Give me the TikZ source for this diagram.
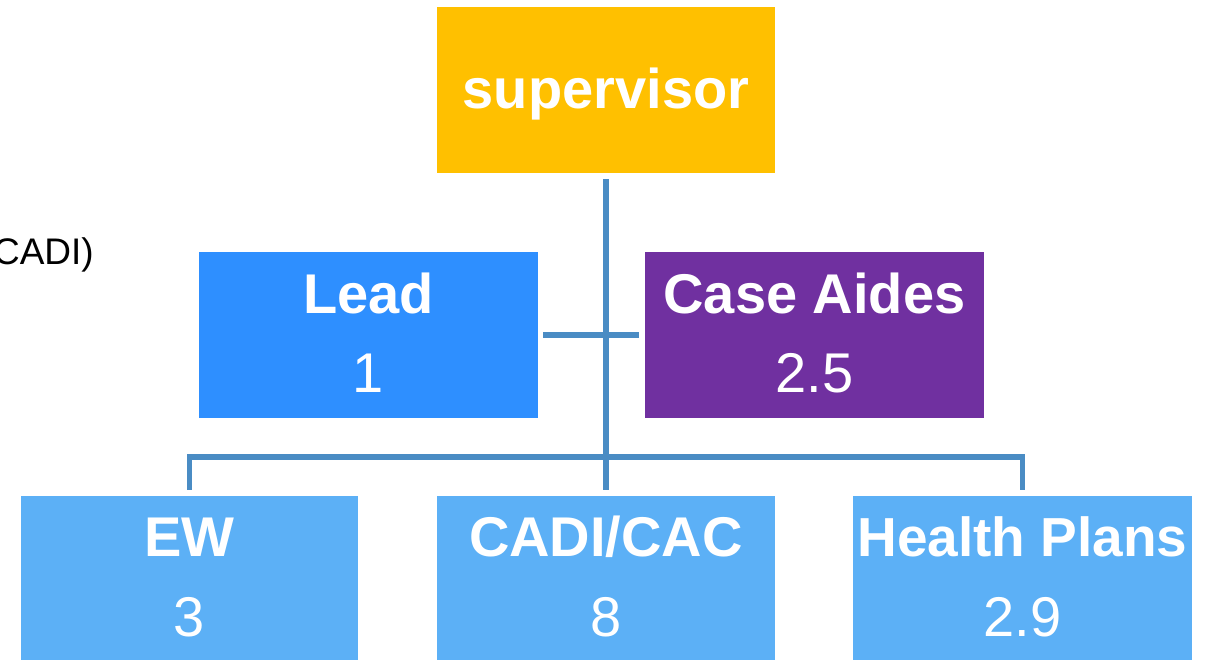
\documentclass[tikz,border=0pt]{standalone}
\usepackage{fontspec}
\setmainfont{Liberation Sans}
\definecolor{supfill}{HTML}{FFC000}
\definecolor{leadfill}{HTML}{2E8FFF}
\definecolor{casefill}{HTML}{7030A0}
\definecolor{teamfill}{HTML}{5CB0F6}
\definecolor{linkcol}{HTML}{4A8CC4}
\tikzset{
  box/.style={rectangle, inner sep=0pt, draw=none, minimum width=338pt, minimum height=166pt},
  title/.style={text=white, inner sep=0pt, anchor=base, font=\fontsize{56}{60}\selectfont\bfseries},
  count/.style={text=white, inner sep=0pt, anchor=base, font=\fontsize{56}{60}\selectfont},
  conn/.style={draw=linkcol, line width=5.5pt, line cap=butt, line join=miter}
}
\begin{document}
\begin{tikzpicture}[x=1pt,y=-1pt]
\clip (0,0) rectangle (1210,659);
\fill[white] (0,0) rectangle (1210,659);

% partial caption at the left margin
\node[anchor=base east, inner sep=0pt, font=\fontsize{37}{40}\selectfont] (side) at (94,264) {CADI)};

% boxes
\node[box, fill=supfill] (sup) at (606,90) {};
\node[box, fill=leadfill, minimum width=339pt] (lead) at (368.5,335) {};
\node[box, fill=casefill, minimum width=339pt] (case) at (814.5,335) {};
\node[box, fill=teamfill, minimum width=337pt, minimum height=169pt] (ew) at (189.5,580.5) {};
\node[box, fill=teamfill, minimum width=338pt, minimum height=169pt] (cadi) at (606,580.5) {};
\node[box, fill=teamfill, minimum width=339pt, minimum height=169pt] (hp) at (1022.5,580.5) {};

% labels
\node[title] (supT) at (606,108) {supervisor};
\node[title] (leadT) at (368.5,313) {Lead};
\node[count] (leadN) at (368.5,392) {1};
\node[title] (caseT) at (814.5,313) {Case Aides};
\node[count] (caseN) at (814.5,392) {2.5};
\node[title] (ewT) at (189.5,556) {EW};
\node[count] (ewN) at (189.5,636) {3};
\node[title] (cadiT) at (606,556) {CADI/CAC};
\node[count] (cadiN) at (606,636) {8};
\node[title, font=\fontsize{55}{60}\selectfont\bfseries] (hpT) at (1022.5,556) {Health Plans};
\node[count] (hpN) at (1022.5,636) {2.9};

% connectors
\coordinate (bus) at (606,457);
\draw[conn] ([yshift=-6pt]sup.south) -- ([yshift=6pt]cadi.north);
\draw[conn] ([xshift=5pt]lead.east) -- ([xshift=-6pt]case.west);
\draw[conn] ([yshift=6pt]ew.north) |- (bus) -| ([yshift=6pt]hp.north);
\end{tikzpicture}
\end{document}
